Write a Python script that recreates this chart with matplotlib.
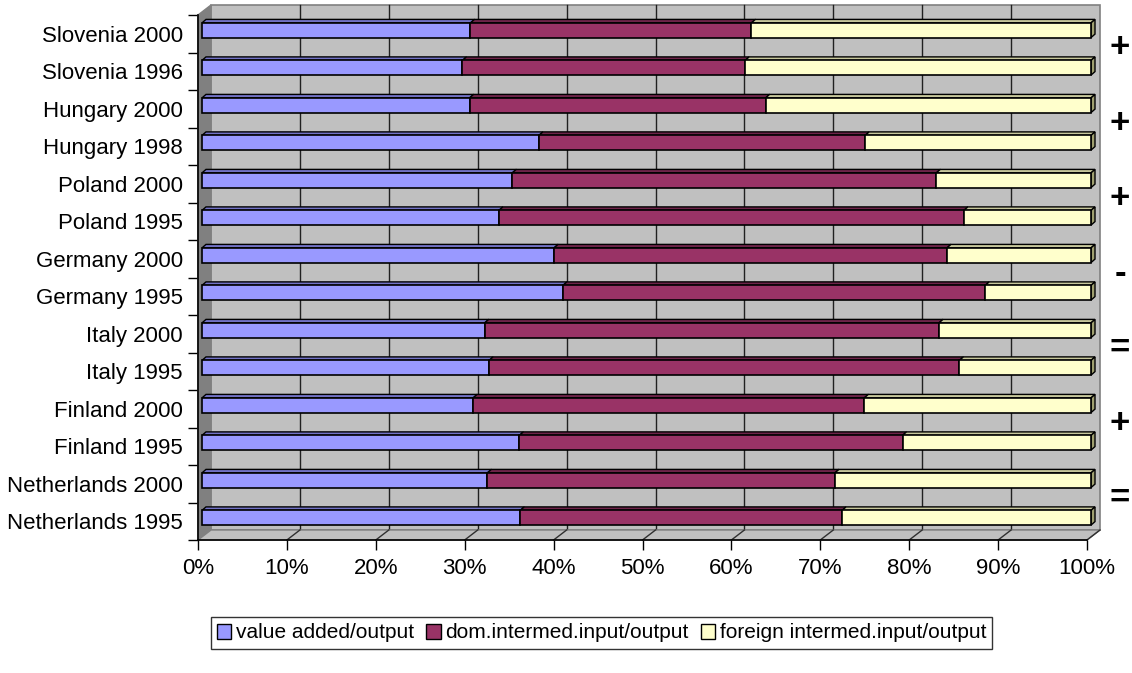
import matplotlib
matplotlib.use("Agg")
import matplotlib.pyplot as plt
from matplotlib.patches import Polygon, Rectangle, Patch
from matplotlib.transforms import ScaledTranslation
from matplotlib.lines import Line2D

plt.rcParams['font.family'] = ['Liberation Sans', 'DejaVu Sans']

# ---- data (shares of output, %) ----
categories = ["Slovenia 2000", "Slovenia 1996", "Hungary 2000", "Hungary 1998",
              "Poland 2000", "Poland 1995", "Germany 2000", "Germany 1995",
              "Italy 2000", "Italy 1995", "Finland 2000", "Finland 1995",
              "Netherlands 2000", "Netherlands 1995"]
value_added = [30.2, 29.3, 30.1, 37.9, 34.9, 33.4, 39.6, 40.6, 31.8, 32.3, 30.5, 35.7, 32.1, 35.8]
dom_intermed = [31.6, 31.8, 33.3, 36.7, 47.7, 52.3, 44.2, 47.5, 51.1, 52.9, 44.0, 43.1, 39.1, 36.2]
foreign_intermed = [38.2, 38.9, 36.6, 25.4, 17.4, 14.3, 16.2, 11.9, 17.1, 14.8, 25.5, 21.2, 28.8, 28.0]
series_names = ["value added/output", "dom.intermed.input/output", "foreign intermed.input/output"]
trend_signs = ["+", "+", "+", "-", "=", "+", "="]   # one per country pair, top to bottom
x_ticks = list(range(0, 101, 10))

# ---- styling ----
face_cols = ["#9999FF", "#993366", "#FFFFCC"]
top_cols = ["#7272C6", "#6E2449", "#C8C89C"]
end_col = "#A0A070"
wall_col = "#C0C0C0"
side_col = "#808080"

W, H, DPI = 1132, 673, 100
fig = plt.figure(figsize=(W / DPI, H / DPI), dpi=DPI)
ax_l, ax_r, ax_t, ax_b = 198, 1087, 15, 540
ax = fig.add_axes([ax_l / W, (H - ax_b) / H, (ax_r - ax_l) / W, (ax_b - ax_t) / H])
n = len(categories)
ax.set_xlim(0, 100)
ax.set_ylim(-0.5, n - 0.5)
ax.patch.set_visible(False)

# pixel -> data unit factors
sx = 100.0 / (ax_r - ax_l)
sy = n / (ax_b - ax_t)

# depth offsets (pixels) of the 3-D box and the bars
WX, WY = 13 * sx, 10 * sy          # back wall
BX0, BY0 = 4 * sx, 3.5 * sy        # bar front plane
BX, BY = 4 * sx, 3.5 * sy          # bar depth
bar_h = 14.7 * sy

y0, y1 = -0.5, n - 0.5

# back wall
ax.add_patch(Rectangle((WX, y0 + WY), 100, n, fc=wall_col, ec=side_col, lw=1.2, zorder=1, clip_on=False))
for v in x_ticks[1:-1]:
    ax.add_line(Line2D([v + WX, v + WX], [y0 + WY, y1 + WY], color="#202020", lw=1, zorder=1.5, clip_on=False))
# side wall
ax.add_patch(Polygon([(0, y0), (0, y1), (WX, y1 + WY), (WX, y0 + WY)], closed=True,
                     fc=side_col, ec=side_col, lw=1, zorder=2, clip_on=False))
# floor
ax.add_patch(Polygon([(0, y0), (100, y0), (100 + WX, y0 + WY), (WX, y0 + WY)], closed=True,
                     fc=wall_col, ec=side_col, lw=1, zorder=2, clip_on=False))
for v in x_ticks[1:]:
    ax.add_line(Line2D([v, v + WX], [y0, y0 + WY], color="#303030", lw=1, zorder=2.5, clip_on=False))

# bars
ypos = [n - 1 - i for i in range(n)]
series = [value_added, dom_intermed, foreign_intermed]
shift = ax.transData + ScaledTranslation(4 / DPI, 3.5 / DPI, fig.dpi_scale_trans)
lefts = [0.0] * n
for k, vals in enumerate(series):
    ax.barh(ypos, vals, left=lefts, height=bar_h, color=face_cols[k], edgecolor="black",
            linewidth=1.2, transform=shift, zorder=4, label=series_names[k], clip_on=False)
    for i in range(n):
        l = lefts[i] + BX0
        r = lefts[i] + vals[i] + BX0
        top = ypos[i] + bar_h / 2 + BY0
        bot = ypos[i] - bar_h / 2 + BY0
        ax.add_patch(Polygon([(l, top), (r, top), (r + BX, top + BY), (l + BX, top + BY)], closed=True,
                             fc=top_cols[k], ec="black", lw=1.0, zorder=3.5, clip_on=False))
        if k == len(series) - 1:
            ax.add_patch(Polygon([(r, bot), (r, top), (r + BX, top + BY), (r + BX, bot + BY)], closed=True,
                                 fc=end_col, ec="black", lw=1.0, zorder=3.5, clip_on=False))
    lefts = [lefts[i] + vals[i] for i in range(n)]

# axes
for s in ["top", "right"]:
    ax.spines[s].set_visible(False)
for s in ["left", "bottom"]:
    ax.spines[s].set_color("black")
    ax.spines[s].set_linewidth(1.2)
    ax.spines[s].set_zorder(5)

ax.set_xticks(x_ticks)
ax.set_xticklabels([f"{v}%" for v in x_ticks], fontsize=16)
ax.tick_params(axis="x", direction="out", length=7.2, width=1, pad=6, colors="black")
ax.set_yticks(ypos)
ax.set_yticklabels(categories, fontsize=16)
ax.tick_params(axis="y", which="major", length=0, pad=11)
ax.set_yticks([y0 + j for j in range(n + 1)], minor=True)
ax.tick_params(axis="y", which="minor", direction="out", length=7.2, width=1, color="black")

# trend markers beside each country pair
for p, sign in enumerate(trend_signs):
    yb = (n - 1.5) - 2 * p + 4.5 * sy
    ax.text(100 + 33 * sx, yb, sign, ha="center", va="center", fontsize=25,
            fontweight="bold", clip_on=False)

# legend
handles = [Patch(facecolor=face_cols[k], edgecolor="black", linewidth=1) for k in range(3)]
leg = fig.legend(handles, series_names, loc="center", bbox_to_anchor=(601.5 / W, (H - 633) / H),
                 ncol=3, fontsize=15, frameon=True, fancybox=False, edgecolor="black",
                 handlelength=0.7, handleheight=0.7, handletextpad=0.2, columnspacing=0.6,
                 borderpad=0.3, borderaxespad=0)
leg.get_frame().set_linewidth(1)

fig.savefig("out.png", dpi=DPI)
